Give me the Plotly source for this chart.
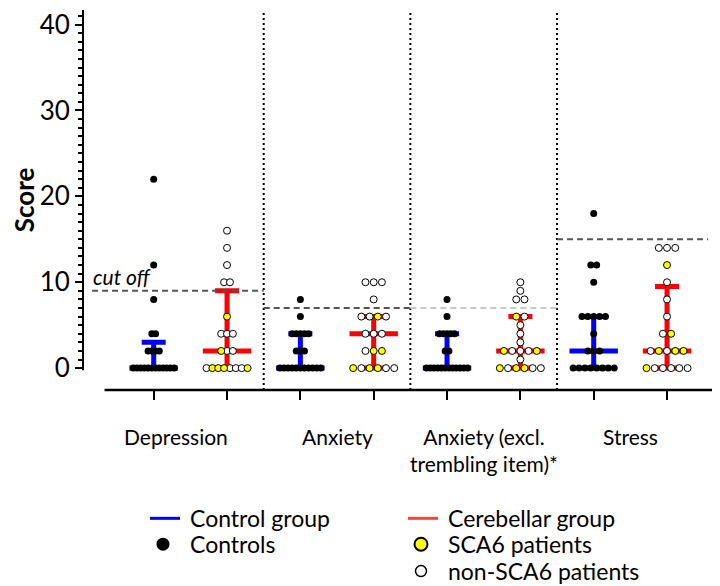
import plotly.graph_objects as go

# group labels (one group = controls column + patients column)
measures = ["Depression", "Anxiety", "Anxiety (excl.<br>trembling item)*", "Stress"]
cutoffs = [9, 7, 7, 15]

# control group scores per measure
ctrl_dep = [0, 0, 0, 0, 0, 0, 0, 0, 0, 0, 0, 0, 2, 2, 2, 2, 4, 4, 8, 12, 22]
ctrl_anx = [0, 0, 0, 0, 0, 0, 0, 0, 0, 0, 0, 2, 2, 2, 4, 4, 4, 4, 4, 6, 8]
ctrl_anx_ex = [0, 0, 0, 0, 0, 0, 0, 0, 0, 0, 0, 0, 2, 2, 4, 4, 4, 4, 4, 6, 8]
ctrl_str = [0, 0, 0, 0, 0, 0, 0, 0, 2, 2, 2, 4, 6, 6, 6, 6, 6, 10, 12, 12, 18]

# cerebellar group scores per measure, with SCA6 flag (1 = SCA6) in same order
pat_dep = [0, 0, 0, 0, 0, 0, 0, 0, 2, 2, 2, 4, 4, 4, 6, 10, 10, 12, 14, 16]
sca_dep = [0, 1, 1, 1, 0, 0, 0, 1, 1, 0, 0, 0, 0, 0, 1, 0, 0, 0, 0, 0]
pat_anx = [0, 0, 0, 0, 0, 0, 2, 2, 2, 4, 4, 4, 6, 6, 6, 6, 8, 10, 10, 10]
sca_anx = [1, 0, 1, 1, 0, 0, 0, 1, 1, 0, 0, 0, 0, 0, 1, 0, 0, 0, 0, 0]
pat_anx_ex = [0, 0, 0, 0, 0, 0, 1, 2, 2, 2, 2, 2, 3, 4, 5, 6, 6, 8, 8, 9, 10]
sca_anx_ex = [1, 0, 1, 1, 0, 0, 0, 1, 0, 0, 0, 1, 0, 0, 0, 1, 0, 0, 0, 0, 0]
pat_str = [0, 0, 0, 0, 0, 0, 2, 2, 2, 2, 2, 4, 4, 6, 8, 10, 12, 14, 14, 14]
sca_str = [1, 0, 0, 0, 0, 0, 0, 1, 0, 1, 1, 0, 1, 0, 0, 0, 1, 0, 0, 0]

# median and interquartile range
ctrl_median = [0, 0, 0, 2]
ctrl_q1 = [0, 0, 0, 0]
ctrl_q3 = [3, 4, 4, 6]
pat_median = [2, 4, 2, 2]
pat_q1 = [0, 0, 0, 0]
pat_q3 = [9, 6, 6, 9.5]

controls = [ctrl_dep, ctrl_anx, ctrl_anx_ex, ctrl_str]
patients = [pat_dep, pat_anx, pat_anx_ex, pat_str]
sca_flags = [sca_dep, sca_anx, sca_anx_ex, sca_str]

FONT = "Lato"
BLUE = "#0000FF"
RED = "#FF0000"
YELLOW = "#FFFF00"
SPAN = 0.56  # width of the widest row of dots, in x units

# the page body has an 8px margin, so the figure is made 8px smaller
OFF = 8
W, H = 720 - OFF, 586 - OFF
# plot area in figure pixels
PL, PR, PT, PB = 83 - OFF, 718 - OFF, 0, 390 - OFF


def swarm(values, center):
    # spread equal values sideways like a column scatter
    rows = {}
    for i, v in enumerate(values):
        rows.setdefault(v, []).append(i)
    kmax = max(len(r) for r in rows.values())
    step = SPAN / (kmax - 1) if kmax > 1 else 0
    xs = [0.0] * len(values)
    for idx in rows.values():
        k = len(idx)
        for j, i in enumerate(idx):
            xs[i] = center + (j - (k - 1) / 2) * step
    return xs


def px(x):
    # screen pixel -> paper x
    return (x - OFF - PL) / (PR - PL)


def py(y):
    # screen pixel -> paper y
    return (PB - (y - OFF)) / (PB - PT)


ctrl_pos = [2 * g for g in range(len(measures))]
pat_pos = [2 * g + 1 for g in range(len(measures))]

fig = go.Figure()

# median + IQR bars
for pos, med, q1, q3, col in [(ctrl_pos, ctrl_median, ctrl_q1, ctrl_q3, BLUE),
                              (pat_pos, pat_median, pat_q1, pat_q3, RED)]:
    fig.add_trace(go.Scatter(
        x=pos, y=med, mode="markers", marker=dict(size=1, color="rgba(0,0,0,0)"),
        error_y=dict(type="data", symmetric=False,
                     array=[b - m for b, m in zip(q3, med)],
                     arrayminus=[m - a for m, a in zip(med, q1)],
                     color=col, thickness=5, width=12),
        error_x=dict(type="constant", value=0.33, color=col, thickness=5, width=0),
        showlegend=False, hoverinfo="skip"))

# dots
cx, cy = [], []
yx, yy, wx, wy = [], [], [], []
for g in range(len(measures)):
    cx += swarm(controls[g], ctrl_pos[g])
    cy += controls[g]
    pxs = swarm(patients[g], pat_pos[g])
    for x, v, f in zip(pxs, patients[g], sca_flags[g]):
        if f:
            yx.append(x); yy.append(v)
        else:
            wx.append(x); wy.append(v)

fig.add_trace(go.Scatter(x=cx, y=cy, mode="markers", showlegend=False,
                         marker=dict(size=7, color="black", line=dict(width=0))))
fig.add_trace(go.Scatter(x=wx, y=wy, mode="markers", showlegend=False,
                         marker=dict(size=7, color="white", line=dict(width=1, color="black"))))
fig.add_trace(go.Scatter(x=yx, y=yy, mode="markers", showlegend=False,
                         marker=dict(size=7, color=YELLOW, line=dict(width=1, color="black"))))

y_top = (PB - PT) / 8.6325 - 2.549

shapes = []
# axis lines
shapes.append(dict(type="line", xref="paper", yref="y", x0=0, x1=0, y0=-0.25, y1=y_top,
                   line=dict(color="black", width=2)))
shapes.append(dict(type="line", xref="x", yref="paper", x0=-0.67, x1=7.7, y0=0, y1=0,
                   line=dict(color="black", width=2.5)))
# group separators
for g in range(1, len(measures)):
    shapes.append(dict(type="line", xref="x", yref="paper", x0=2 * g - 0.5, x1=2 * g - 0.5,
                       y0=0, y1=1, line=dict(color="black", width=2, dash="2px,3px")))
# cut-off lines
cut_colors = ["#555555", "#555555", "#C8C8C8", "#555555"]
for g, c in enumerate(cutoffs):
    x0 = -0.84 if g == 0 else 2 * g - 0.5
    x1 = 7.56 if g == len(measures) - 1 else 2 * g + 1.5
    shapes.append(dict(type="line", xref="x", yref="y", x0=x0, x1=x1, y0=c, y1=c,
                       line=dict(color=cut_colors[g], width=2, dash="6px,4px")))

annotations = [dict(x=-0.86, y=cutoffs[0], xref="x", yref="y", text="<i>cut off</i>",
                    showarrow=False, xanchor="left", yanchor="bottom", yshift=0,
                    font=dict(family=FONT, size=21, color="black"))]
label_x = [0.3, 2.5, 4.5, 6.5]
for lx, m in zip(label_x, measures):
    annotations.append(dict(x=lx, y=py(422), xref="x", yref="paper", text=m, showarrow=False,
                            xanchor="center", yanchor="top", align="center",
                            font=dict(family=FONT, size=21, color="black")))

# legend drawn by hand (two columns), positions in screen pixels
legend_items = [
    ("line", BLUE, "Control group", 150, 519),
    ("dot", "black", "Controls", 150, 545),
    ("line", "#FF4040", "Cerebellar group", 408, 519),
    ("dot", YELLOW, "SCA6 patients", 408, 545),
    ("dot", "white", "non-SCA6 patients", 408, 572),
]
for kind, col, label, lx, ly in legend_items:
    if kind == "line":
        shapes.append(dict(type="line", xref="paper", yref="paper",
                           x0=px(lx), x1=px(lx + 30), y0=py(ly), y1=py(ly),
                           line=dict(color=col, width=3)))
    else:
        r = 6.5 if col != "white" else 5.5
        lw = 0 if col == "black" else (2 if col == YELLOW else 1.5)
        shapes.append(dict(type="circle", xref="paper", yref="paper",
                           xsizemode="pixel", ysizemode="pixel",
                           xanchor=px(lx + 13), yanchor=py(ly),
                           x0=-r, x1=r, y0=-r, y1=r, fillcolor=col,
                           line=dict(color="black", width=lw)))
    annotations.append(dict(x=px(lx + 38), y=py(ly), xref="paper", yref="paper",
                            text=label, showarrow=False, xanchor="left", yanchor="middle",
                            font=dict(family=FONT, size=23, color="black")))

fig.update_layout(
    width=W, height=H,
    margin=dict(l=PL, r=W - PR, t=PT, b=H - PB),
    plot_bgcolor="white", paper_bgcolor="white",
    font=dict(family=FONT, color="black"),
    shapes=shapes, annotations=annotations,
    showlegend=False,
)

fig.update_xaxes(range=[-0.964, 7.695], showgrid=False, zeroline=False, showline=False,
                 tickmode="array", tickvals=ctrl_pos + pat_pos, showticklabels=False,
                 ticks="outside", ticklen=9, tickwidth=2, tickcolor="black")
fig.update_yaxes(range=[-2.549, y_top], showgrid=False, zeroline=False, showline=False,
                 tickmode="array", tickvals=[0, 10, 20, 30, 40],
                 ticks="outside", ticklen=7, tickwidth=2, tickcolor="black",
                 tickfont=dict(family=FONT, size=26), ticklabeloverflow="allow",
                 minor=dict(tickmode="array", tickvals=list(range(0, 42)), ticks="outside",
                            ticklen=4, tickwidth=1.5, tickcolor="black"),
                 title=dict(text="<b>Score</b>", font=dict(family=FONT, size=26), standoff=10))

fig.write_html("out.html")
